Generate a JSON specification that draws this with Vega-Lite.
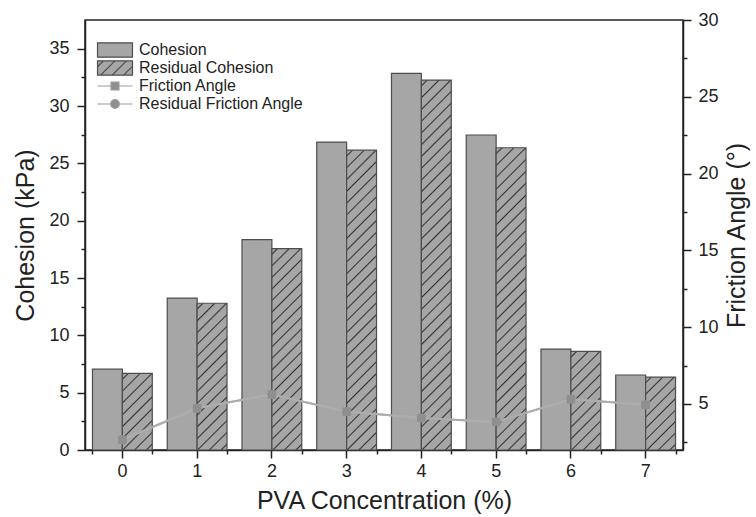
{
"$schema": "https://vega.github.io/schema/vega-lite/v6.json",
"width": 598, "height": 430,
"autosize": {"type": "none"},
"padding": {"left": 85, "top": 20, "right": 73, "bottom": 67},
"background": "white",
"config": {
  "view": {"stroke": "#222222", "strokeWidth": 1.5},
  "font": "Liberation Sans",
  "axis": {"labelFont": "Liberation Sans", "titleFont": "Liberation Sans", "labelFontSize": 18, "titleFontSize": 25, "titleFontWeight": "normal", "labelColor": "#222222", "titleColor": "#222222", "domainColor": "#222222", "tickColor": "#222222", "domainWidth": 1.5, "tickWidth": 1.5, "grid": false}
},
"datasets": {
  "bars": [
    {"c": 0, "series": "Cohesion", "value": 7.06}, {"c": 0, "series": "Residual Cohesion", "value": 6.68},
    {"c": 1, "series": "Cohesion", "value": 13.25}, {"c": 1, "series": "Residual Cohesion", "value": 12.8},
    {"c": 2, "series": "Cohesion", "value": 18.35}, {"c": 2, "series": "Residual Cohesion", "value": 17.57},
    {"c": 3, "series": "Cohesion", "value": 26.85}, {"c": 3, "series": "Residual Cohesion", "value": 26.15},
    {"c": 4, "series": "Cohesion", "value": 32.84}, {"c": 4, "series": "Residual Cohesion", "value": 32.26},
    {"c": 5, "series": "Cohesion", "value": 27.47}, {"c": 5, "series": "Residual Cohesion", "value": 26.36},
    {"c": 6, "series": "Cohesion", "value": 8.8}, {"c": 6, "series": "Residual Cohesion", "value": 8.6},
    {"c": 7, "series": "Cohesion", "value": 6.54}, {"c": 7, "series": "Residual Cohesion", "value": 6.36}
  ],
  "angles": [
    {"c": 0, "series": "Friction Angle", "value": 2.67}, {"c": 1, "series": "Friction Angle", "value": 4.72},
    {"c": 2, "series": "Friction Angle", "value": 5.62}, {"c": 3, "series": "Friction Angle", "value": 4.5},
    {"c": 4, "series": "Friction Angle", "value": 4.08}, {"c": 5, "series": "Friction Angle", "value": 3.83},
    {"c": 6, "series": "Friction Angle", "value": 5.3}, {"c": 7, "series": "Friction Angle", "value": 4.94},
    {"c": 0, "series": "Residual Friction Angle", "value": 2.67}, {"c": 1, "series": "Residual Friction Angle", "value": 4.72},
    {"c": 2, "series": "Residual Friction Angle", "value": 5.62}, {"c": 3, "series": "Residual Friction Angle", "value": 4.5},
    {"c": 4, "series": "Residual Friction Angle", "value": 4.08}, {"c": 5, "series": "Residual Friction Angle", "value": 3.83},
    {"c": 6, "series": "Residual Friction Angle", "value": 5.3}, {"c": 7, "series": "Residual Friction Angle", "value": 4.94}
  ]
},
"layer": [
  {
    "data": {"name": "bars"},
    "mark": {"type": "bar", "stroke": "#4d4d4d", "strokeWidth": 1.2},
    "encoding": {
      "x": {"field": "c", "type": "ordinal", "scale": {"type": "band", "paddingInner": 0.2, "paddingOuter": 0.1},
            "axis": {"orient": "bottom", "title": "PVA Concentration (%)", "labelAngle": 0, "tickSize": 8, "labelPadding": 4, "titlePadding": 8}},
      "xOffset": {"field": "series", "type": "nominal", "scale": {"domain": ["Cohesion", "Residual Cohesion"], "paddingInner": 0, "paddingOuter": 0}},
      "y": {"field": "value", "type": "quantitative", "scale": {"domain": [0, 37.5], "nice": false, "zero": false},
            "axis": {"orient": "left", "title": "Cohesion (kPa)", "values": [0,2.5,5,7.5,10,12.5,15,17.5,20,22.5,25,27.5,30,32.5,35],
                     "labelExpr": "datum.value % 5 === 0 ? datum.label : ''",
                     "tickSize": {"condition": {"test": "datum.value % 5 === 0", "value": 8}, "value": 4},
                     "labelPadding": 8, "titlePadding": 10}},
      "fill": {"condition": [
        {"test": "datum.series === 'Residual Cohesion' && datum.c === 0", "value": {"gradient": "linear", "x1": 0, "y1": 0, "x2": 0.4710, "y2": 1.2065, "stops": [
          {"offset":0.0413,"color":"#a6a6a6"},{"offset":0.0556,"color":"#333333"},{"offset":0.0698,"color":"#a6a6a6"},
          {"offset":0.1524,"color":"#a6a6a6"},{"offset":0.1667,"color":"#333333"},{"offset":0.1809,"color":"#a6a6a6"},
          {"offset":0.2636,"color":"#a6a6a6"},{"offset":0.2778,"color":"#333333"},{"offset":0.2920,"color":"#a6a6a6"},
          {"offset":0.3747,"color":"#a6a6a6"},{"offset":0.3889,"color":"#333333"},{"offset":0.4031,"color":"#a6a6a6"},
          {"offset":0.4858,"color":"#a6a6a6"},{"offset":0.5000,"color":"#333333"},{"offset":0.5142,"color":"#a6a6a6"},
          {"offset":0.5969,"color":"#a6a6a6"},{"offset":0.6111,"color":"#333333"},{"offset":0.6253,"color":"#a6a6a6"},
          {"offset":0.7080,"color":"#a6a6a6"},{"offset":0.7222,"color":"#333333"},{"offset":0.7364,"color":"#a6a6a6"},
          {"offset":0.8191,"color":"#a6a6a6"},{"offset":0.8333,"color":"#333333"},{"offset":0.8476,"color":"#a6a6a6"},
          {"offset":0.9302,"color":"#a6a6a6"},{"offset":0.9444,"color":"#333333"},{"offset":0.9587,"color":"#a6a6a6"}]}},
        {"test": "datum.series === 'Residual Cohesion' && datum.c === 1", "value": {"gradient": "linear", "x1": 0, "y1": 0, "x2": 0.2354, "y2": 1.1557, "stops": [
          {"offset":0.0248,"color":"#a6a6a6"},{"offset":0.0333,"color":"#333333"},{"offset":0.0419,"color":"#a6a6a6"},
          {"offset":0.0915,"color":"#a6a6a6"},{"offset":0.1000,"color":"#333333"},{"offset":0.1085,"color":"#a6a6a6"},
          {"offset":0.1581,"color":"#a6a6a6"},{"offset":0.1667,"color":"#333333"},{"offset":0.1752,"color":"#a6a6a6"},
          {"offset":0.2248,"color":"#a6a6a6"},{"offset":0.2333,"color":"#333333"},{"offset":0.2419,"color":"#a6a6a6"},
          {"offset":0.2915,"color":"#a6a6a6"},{"offset":0.3000,"color":"#333333"},{"offset":0.3085,"color":"#a6a6a6"},
          {"offset":0.3581,"color":"#a6a6a6"},{"offset":0.3667,"color":"#333333"},{"offset":0.3752,"color":"#a6a6a6"},
          {"offset":0.4248,"color":"#a6a6a6"},{"offset":0.4333,"color":"#333333"},{"offset":0.4419,"color":"#a6a6a6"},
          {"offset":0.4915,"color":"#a6a6a6"},{"offset":0.5000,"color":"#333333"},{"offset":0.5085,"color":"#a6a6a6"},
          {"offset":0.5581,"color":"#a6a6a6"},{"offset":0.5667,"color":"#333333"},{"offset":0.5752,"color":"#a6a6a6"},
          {"offset":0.6248,"color":"#a6a6a6"},{"offset":0.6333,"color":"#333333"},{"offset":0.6419,"color":"#a6a6a6"},
          {"offset":0.6915,"color":"#a6a6a6"},{"offset":0.7000,"color":"#333333"},{"offset":0.7085,"color":"#a6a6a6"},
          {"offset":0.7581,"color":"#a6a6a6"},{"offset":0.7667,"color":"#333333"},{"offset":0.7752,"color":"#a6a6a6"},
          {"offset":0.8248,"color":"#a6a6a6"},{"offset":0.8333,"color":"#333333"},{"offset":0.8419,"color":"#a6a6a6"},
          {"offset":0.8915,"color":"#a6a6a6"},{"offset":0.9000,"color":"#333333"},{"offset":0.9085,"color":"#a6a6a6"},
          {"offset":0.9581,"color":"#a6a6a6"},{"offset":0.9667,"color":"#333333"},{"offset":0.9752,"color":"#a6a6a6"}]}},
        {"test": "datum.series === 'Residual Cohesion' && datum.c === 2", "value": {"gradient": "linear", "x1": 0, "y1": 0, "x2": 0.1667, "y2": 1.1236, "stops": [
          {"offset":0.0186,"color":"#a6a6a6"},{"offset":0.025,"color":"#333333"},{"offset":0.0314,"color":"#a6a6a6"},
          {"offset":0.0686,"color":"#a6a6a6"},{"offset":0.075,"color":"#333333"},{"offset":0.0814,"color":"#a6a6a6"},
          {"offset":0.1186,"color":"#a6a6a6"},{"offset":0.125,"color":"#333333"},{"offset":0.1314,"color":"#a6a6a6"},
          {"offset":0.1686,"color":"#a6a6a6"},{"offset":0.175,"color":"#333333"},{"offset":0.1814,"color":"#a6a6a6"},
          {"offset":0.2186,"color":"#a6a6a6"},{"offset":0.225,"color":"#333333"},{"offset":0.2314,"color":"#a6a6a6"},
          {"offset":0.2686,"color":"#a6a6a6"},{"offset":0.275,"color":"#333333"},{"offset":0.2814,"color":"#a6a6a6"},
          {"offset":0.3186,"color":"#a6a6a6"},{"offset":0.325,"color":"#333333"},{"offset":0.3314,"color":"#a6a6a6"},
          {"offset":0.3686,"color":"#a6a6a6"},{"offset":0.375,"color":"#333333"},{"offset":0.3814,"color":"#a6a6a6"},
          {"offset":0.4186,"color":"#a6a6a6"},{"offset":0.425,"color":"#333333"},{"offset":0.4314,"color":"#a6a6a6"},
          {"offset":0.4686,"color":"#a6a6a6"},{"offset":0.475,"color":"#333333"},{"offset":0.4814,"color":"#a6a6a6"},
          {"offset":0.5186,"color":"#a6a6a6"},{"offset":0.525,"color":"#333333"},{"offset":0.5314,"color":"#a6a6a6"},
          {"offset":0.5686,"color":"#a6a6a6"},{"offset":0.575,"color":"#333333"},{"offset":0.5814,"color":"#a6a6a6"},
          {"offset":0.6186,"color":"#a6a6a6"},{"offset":0.625,"color":"#333333"},{"offset":0.6314,"color":"#a6a6a6"},
          {"offset":0.6686,"color":"#a6a6a6"},{"offset":0.675,"color":"#333333"},{"offset":0.6814,"color":"#a6a6a6"},
          {"offset":0.7186,"color":"#a6a6a6"},{"offset":0.725,"color":"#333333"},{"offset":0.7314,"color":"#a6a6a6"},
          {"offset":0.7686,"color":"#a6a6a6"},{"offset":0.775,"color":"#333333"},{"offset":0.7814,"color":"#a6a6a6"},
          {"offset":0.8186,"color":"#a6a6a6"},{"offset":0.825,"color":"#333333"},{"offset":0.8314,"color":"#a6a6a6"},
          {"offset":0.8686,"color":"#a6a6a6"},{"offset":0.875,"color":"#333333"},{"offset":0.8814,"color":"#a6a6a6"},
          {"offset":0.9186,"color":"#a6a6a6"},{"offset":0.925,"color":"#333333"},{"offset":0.9314,"color":"#a6a6a6"},
          {"offset":0.9686,"color":"#a6a6a6"},{"offset":0.975,"color":"#333333"},{"offset":0.9814,"color":"#a6a6a6"}]}},
        {"test": "datum.series === 'Residual Cohesion' && datum.c === 3", "value": {"gradient": "linear", "x1": 0, "y1": 0, "x2": 0.1086, "y2": 1.0889, "stops": [
          {"offset":0.0133,"color":"#a6a6a6"},{"offset":0.0179,"color":"#333333"},{"offset":0.0224,"color":"#a6a6a6"},
          {"offset":0.0490,"color":"#a6a6a6"},{"offset":0.0536,"color":"#333333"},{"offset":0.0581,"color":"#a6a6a6"},
          {"offset":0.0847,"color":"#a6a6a6"},{"offset":0.0893,"color":"#333333"},{"offset":0.0939,"color":"#a6a6a6"},
          {"offset":0.1204,"color":"#a6a6a6"},{"offset":0.1250,"color":"#333333"},{"offset":0.1296,"color":"#a6a6a6"},
          {"offset":0.1561,"color":"#a6a6a6"},{"offset":0.1607,"color":"#333333"},{"offset":0.1653,"color":"#a6a6a6"},
          {"offset":0.1919,"color":"#a6a6a6"},{"offset":0.1964,"color":"#333333"},{"offset":0.2010,"color":"#a6a6a6"},
          {"offset":0.2276,"color":"#a6a6a6"},{"offset":0.2321,"color":"#333333"},{"offset":0.2367,"color":"#a6a6a6"},
          {"offset":0.2633,"color":"#a6a6a6"},{"offset":0.2679,"color":"#333333"},{"offset":0.2724,"color":"#a6a6a6"},
          {"offset":0.2990,"color":"#a6a6a6"},{"offset":0.3036,"color":"#333333"},{"offset":0.3081,"color":"#a6a6a6"},
          {"offset":0.3347,"color":"#a6a6a6"},{"offset":0.3393,"color":"#333333"},{"offset":0.3439,"color":"#a6a6a6"},
          {"offset":0.3704,"color":"#a6a6a6"},{"offset":0.3750,"color":"#333333"},{"offset":0.3796,"color":"#a6a6a6"},
          {"offset":0.4061,"color":"#a6a6a6"},{"offset":0.4107,"color":"#333333"},{"offset":0.4153,"color":"#a6a6a6"},
          {"offset":0.4419,"color":"#a6a6a6"},{"offset":0.4464,"color":"#333333"},{"offset":0.4510,"color":"#a6a6a6"},
          {"offset":0.4776,"color":"#a6a6a6"},{"offset":0.4821,"color":"#333333"},{"offset":0.4867,"color":"#a6a6a6"},
          {"offset":0.5133,"color":"#a6a6a6"},{"offset":0.5179,"color":"#333333"},{"offset":0.5224,"color":"#a6a6a6"},
          {"offset":0.5490,"color":"#a6a6a6"},{"offset":0.5536,"color":"#333333"},{"offset":0.5581,"color":"#a6a6a6"},
          {"offset":0.5847,"color":"#a6a6a6"},{"offset":0.5893,"color":"#333333"},{"offset":0.5939,"color":"#a6a6a6"},
          {"offset":0.6204,"color":"#a6a6a6"},{"offset":0.6250,"color":"#333333"},{"offset":0.6296,"color":"#a6a6a6"},
          {"offset":0.6561,"color":"#a6a6a6"},{"offset":0.6607,"color":"#333333"},{"offset":0.6653,"color":"#a6a6a6"},
          {"offset":0.6919,"color":"#a6a6a6"},{"offset":0.6964,"color":"#333333"},{"offset":0.7010,"color":"#a6a6a6"},
          {"offset":0.7276,"color":"#a6a6a6"},{"offset":0.7321,"color":"#333333"},{"offset":0.7367,"color":"#a6a6a6"},
          {"offset":0.7633,"color":"#a6a6a6"},{"offset":0.7679,"color":"#333333"},{"offset":0.7724,"color":"#a6a6a6"},
          {"offset":0.7990,"color":"#a6a6a6"},{"offset":0.8036,"color":"#333333"},{"offset":0.8081,"color":"#a6a6a6"},
          {"offset":0.8347,"color":"#a6a6a6"},{"offset":0.8393,"color":"#333333"},{"offset":0.8439,"color":"#a6a6a6"},
          {"offset":0.8704,"color":"#a6a6a6"},{"offset":0.8750,"color":"#333333"},{"offset":0.8796,"color":"#a6a6a6"},
          {"offset":0.9061,"color":"#a6a6a6"},{"offset":0.9107,"color":"#333333"},{"offset":0.9153,"color":"#a6a6a6"},
          {"offset":0.9419,"color":"#a6a6a6"},{"offset":0.9464,"color":"#333333"},{"offset":0.9510,"color":"#a6a6a6"},
          {"offset":0.9776,"color":"#a6a6a6"},{"offset":0.9821,"color":"#333333"},{"offset":0.9867,"color":"#a6a6a6"}]}},
        {"test": "datum.series === 'Residual Cohesion' && datum.c === 4", "value": {"gradient": "linear", "x1": 0, "y1": 0, "x2": 0.0868, "y2": 1.0738, "stops": [
          {"offset":0.0109,"color":"#a6a6a6"},{"offset":0.0147,"color":"#333333"},{"offset":0.0185,"color":"#a6a6a6"},
          {"offset":0.0404,"color":"#a6a6a6"},{"offset":0.0441,"color":"#333333"},{"offset":0.0479,"color":"#a6a6a6"},
          {"offset":0.0698,"color":"#a6a6a6"},{"offset":0.0735,"color":"#333333"},{"offset":0.0773,"color":"#a6a6a6"},
          {"offset":0.0992,"color":"#a6a6a6"},{"offset":0.1029,"color":"#333333"},{"offset":0.1067,"color":"#a6a6a6"},
          {"offset":0.1286,"color":"#a6a6a6"},{"offset":0.1324,"color":"#333333"},{"offset":0.1361,"color":"#a6a6a6"},
          {"offset":0.1580,"color":"#a6a6a6"},{"offset":0.1618,"color":"#333333"},{"offset":0.1655,"color":"#a6a6a6"},
          {"offset":0.1874,"color":"#a6a6a6"},{"offset":0.1912,"color":"#333333"},{"offset":0.1949,"color":"#a6a6a6"},
          {"offset":0.2168,"color":"#a6a6a6"},{"offset":0.2206,"color":"#333333"},{"offset":0.2244,"color":"#a6a6a6"},
          {"offset":0.2462,"color":"#a6a6a6"},{"offset":0.2500,"color":"#333333"},{"offset":0.2538,"color":"#a6a6a6"},
          {"offset":0.2756,"color":"#a6a6a6"},{"offset":0.2794,"color":"#333333"},{"offset":0.2832,"color":"#a6a6a6"},
          {"offset":0.3051,"color":"#a6a6a6"},{"offset":0.3088,"color":"#333333"},{"offset":0.3126,"color":"#a6a6a6"},
          {"offset":0.3345,"color":"#a6a6a6"},{"offset":0.3382,"color":"#333333"},{"offset":0.3420,"color":"#a6a6a6"},
          {"offset":0.3639,"color":"#a6a6a6"},{"offset":0.3676,"color":"#333333"},{"offset":0.3714,"color":"#a6a6a6"},
          {"offset":0.3933,"color":"#a6a6a6"},{"offset":0.3971,"color":"#333333"},{"offset":0.4008,"color":"#a6a6a6"},
          {"offset":0.4227,"color":"#a6a6a6"},{"offset":0.4265,"color":"#333333"},{"offset":0.4302,"color":"#a6a6a6"},
          {"offset":0.4521,"color":"#a6a6a6"},{"offset":0.4559,"color":"#333333"},{"offset":0.4596,"color":"#a6a6a6"},
          {"offset":0.4815,"color":"#a6a6a6"},{"offset":0.4853,"color":"#333333"},{"offset":0.4891,"color":"#a6a6a6"},
          {"offset":0.5109,"color":"#a6a6a6"},{"offset":0.5147,"color":"#333333"},{"offset":0.5185,"color":"#a6a6a6"},
          {"offset":0.5404,"color":"#a6a6a6"},{"offset":0.5441,"color":"#333333"},{"offset":0.5479,"color":"#a6a6a6"},
          {"offset":0.5698,"color":"#a6a6a6"},{"offset":0.5735,"color":"#333333"},{"offset":0.5773,"color":"#a6a6a6"},
          {"offset":0.5992,"color":"#a6a6a6"},{"offset":0.6029,"color":"#333333"},{"offset":0.6067,"color":"#a6a6a6"},
          {"offset":0.6286,"color":"#a6a6a6"},{"offset":0.6324,"color":"#333333"},{"offset":0.6361,"color":"#a6a6a6"},
          {"offset":0.6580,"color":"#a6a6a6"},{"offset":0.6618,"color":"#333333"},{"offset":0.6655,"color":"#a6a6a6"},
          {"offset":0.6874,"color":"#a6a6a6"},{"offset":0.6912,"color":"#333333"},{"offset":0.6949,"color":"#a6a6a6"},
          {"offset":0.7168,"color":"#a6a6a6"},{"offset":0.7206,"color":"#333333"},{"offset":0.7244,"color":"#a6a6a6"},
          {"offset":0.7462,"color":"#a6a6a6"},{"offset":0.7500,"color":"#333333"},{"offset":0.7538,"color":"#a6a6a6"},
          {"offset":0.7756,"color":"#a6a6a6"},{"offset":0.7794,"color":"#333333"},{"offset":0.7832,"color":"#a6a6a6"},
          {"offset":0.8051,"color":"#a6a6a6"},{"offset":0.8088,"color":"#333333"},{"offset":0.8126,"color":"#a6a6a6"},
          {"offset":0.8345,"color":"#a6a6a6"},{"offset":0.8382,"color":"#333333"},{"offset":0.8420,"color":"#a6a6a6"},
          {"offset":0.8639,"color":"#a6a6a6"},{"offset":0.8676,"color":"#333333"},{"offset":0.8714,"color":"#a6a6a6"},
          {"offset":0.8933,"color":"#a6a6a6"},{"offset":0.8971,"color":"#333333"},{"offset":0.9008,"color":"#a6a6a6"},
          {"offset":0.9227,"color":"#a6a6a6"},{"offset":0.9265,"color":"#333333"},{"offset":0.9302,"color":"#a6a6a6"},
          {"offset":0.9521,"color":"#a6a6a6"},{"offset":0.9559,"color":"#333333"},{"offset":0.9596,"color":"#a6a6a6"},
          {"offset":0.9815,"color":"#a6a6a6"},{"offset":0.9853,"color":"#333333"},{"offset":0.9891,"color":"#a6a6a6"}]}},
        {"test": "datum.series === 'Residual Cohesion' && datum.c === 5", "value": {"gradient": "linear", "x1": 0, "y1": 0, "x2": 0.1076, "y2": 1.0883, "stops": [
          {"offset":0.0133,"color":"#a6a6a6"},{"offset":0.0179,"color":"#333333"},{"offset":0.0224,"color":"#a6a6a6"},
          {"offset":0.0490,"color":"#a6a6a6"},{"offset":0.0536,"color":"#333333"},{"offset":0.0581,"color":"#a6a6a6"},
          {"offset":0.0847,"color":"#a6a6a6"},{"offset":0.0893,"color":"#333333"},{"offset":0.0939,"color":"#a6a6a6"},
          {"offset":0.1204,"color":"#a6a6a6"},{"offset":0.1250,"color":"#333333"},{"offset":0.1296,"color":"#a6a6a6"},
          {"offset":0.1561,"color":"#a6a6a6"},{"offset":0.1607,"color":"#333333"},{"offset":0.1653,"color":"#a6a6a6"},
          {"offset":0.1919,"color":"#a6a6a6"},{"offset":0.1964,"color":"#333333"},{"offset":0.2010,"color":"#a6a6a6"},
          {"offset":0.2276,"color":"#a6a6a6"},{"offset":0.2321,"color":"#333333"},{"offset":0.2367,"color":"#a6a6a6"},
          {"offset":0.2633,"color":"#a6a6a6"},{"offset":0.2679,"color":"#333333"},{"offset":0.2724,"color":"#a6a6a6"},
          {"offset":0.2990,"color":"#a6a6a6"},{"offset":0.3036,"color":"#333333"},{"offset":0.3081,"color":"#a6a6a6"},
          {"offset":0.3347,"color":"#a6a6a6"},{"offset":0.3393,"color":"#333333"},{"offset":0.3439,"color":"#a6a6a6"},
          {"offset":0.3704,"color":"#a6a6a6"},{"offset":0.3750,"color":"#333333"},{"offset":0.3796,"color":"#a6a6a6"},
          {"offset":0.4061,"color":"#a6a6a6"},{"offset":0.4107,"color":"#333333"},{"offset":0.4153,"color":"#a6a6a6"},
          {"offset":0.4419,"color":"#a6a6a6"},{"offset":0.4464,"color":"#333333"},{"offset":0.4510,"color":"#a6a6a6"},
          {"offset":0.4776,"color":"#a6a6a6"},{"offset":0.4821,"color":"#333333"},{"offset":0.4867,"color":"#a6a6a6"},
          {"offset":0.5133,"color":"#a6a6a6"},{"offset":0.5179,"color":"#333333"},{"offset":0.5224,"color":"#a6a6a6"},
          {"offset":0.5490,"color":"#a6a6a6"},{"offset":0.5536,"color":"#333333"},{"offset":0.5581,"color":"#a6a6a6"},
          {"offset":0.5847,"color":"#a6a6a6"},{"offset":0.5893,"color":"#333333"},{"offset":0.5939,"color":"#a6a6a6"},
          {"offset":0.6204,"color":"#a6a6a6"},{"offset":0.6250,"color":"#333333"},{"offset":0.6296,"color":"#a6a6a6"},
          {"offset":0.6561,"color":"#a6a6a6"},{"offset":0.6607,"color":"#333333"},{"offset":0.6653,"color":"#a6a6a6"},
          {"offset":0.6919,"color":"#a6a6a6"},{"offset":0.6964,"color":"#333333"},{"offset":0.7010,"color":"#a6a6a6"},
          {"offset":0.7276,"color":"#a6a6a6"},{"offset":0.7321,"color":"#333333"},{"offset":0.7367,"color":"#a6a6a6"},
          {"offset":0.7633,"color":"#a6a6a6"},{"offset":0.7679,"color":"#333333"},{"offset":0.7724,"color":"#a6a6a6"},
          {"offset":0.7990,"color":"#a6a6a6"},{"offset":0.8036,"color":"#333333"},{"offset":0.8081,"color":"#a6a6a6"},
          {"offset":0.8347,"color":"#a6a6a6"},{"offset":0.8393,"color":"#333333"},{"offset":0.8439,"color":"#a6a6a6"},
          {"offset":0.8704,"color":"#a6a6a6"},{"offset":0.8750,"color":"#333333"},{"offset":0.8796,"color":"#a6a6a6"},
          {"offset":0.9061,"color":"#a6a6a6"},{"offset":0.9107,"color":"#333333"},{"offset":0.9153,"color":"#a6a6a6"},
          {"offset":0.9419,"color":"#a6a6a6"},{"offset":0.9464,"color":"#333333"},{"offset":0.9510,"color":"#a6a6a6"},
          {"offset":0.9776,"color":"#a6a6a6"},{"offset":0.9821,"color":"#333333"},{"offset":0.9867,"color":"#a6a6a6"}]}},
        {"test": "datum.series === 'Residual Cohesion' && datum.c === 6", "value": {"gradient": "linear", "x1": 0, "y1": 0, "x2": 0.3619, "y2": 1.1936, "stops": [
          {"offset":0.0338,"color":"#a6a6a6"},{"offset":0.0455,"color":"#333333"},{"offset":0.0571,"color":"#a6a6a6"},
          {"offset":0.1247,"color":"#a6a6a6"},{"offset":0.1364,"color":"#333333"},{"offset":0.1480,"color":"#a6a6a6"},
          {"offset":0.2156,"color":"#a6a6a6"},{"offset":0.2273,"color":"#333333"},{"offset":0.2389,"color":"#a6a6a6"},
          {"offset":0.3065,"color":"#a6a6a6"},{"offset":0.3182,"color":"#333333"},{"offset":0.3298,"color":"#a6a6a6"},
          {"offset":0.3975,"color":"#a6a6a6"},{"offset":0.4091,"color":"#333333"},{"offset":0.4207,"color":"#a6a6a6"},
          {"offset":0.4884,"color":"#a6a6a6"},{"offset":0.5000,"color":"#333333"},{"offset":0.5116,"color":"#a6a6a6"},
          {"offset":0.5793,"color":"#a6a6a6"},{"offset":0.5909,"color":"#333333"},{"offset":0.6025,"color":"#a6a6a6"},
          {"offset":0.6702,"color":"#a6a6a6"},{"offset":0.6818,"color":"#333333"},{"offset":0.6934,"color":"#a6a6a6"},
          {"offset":0.7611,"color":"#a6a6a6"},{"offset":0.7727,"color":"#333333"},{"offset":0.7844,"color":"#a6a6a6"},
          {"offset":0.8520,"color":"#a6a6a6"},{"offset":0.8636,"color":"#333333"},{"offset":0.8753,"color":"#a6a6a6"},
          {"offset":0.9429,"color":"#a6a6a6"},{"offset":0.9545,"color":"#333333"},{"offset":0.9662,"color":"#a6a6a6"}]}},
        {"test": "datum.series === 'Residual Cohesion' && datum.c === 7", "value": {"gradient": "linear", "x1": 0, "y1": 0, "x2": 0.4951, "y2": 1.2071, "stops": [
          {"offset":0.0413,"color":"#a6a6a6"},{"offset":0.0556,"color":"#333333"},{"offset":0.0698,"color":"#a6a6a6"},
          {"offset":0.1524,"color":"#a6a6a6"},{"offset":0.1667,"color":"#333333"},{"offset":0.1809,"color":"#a6a6a6"},
          {"offset":0.2636,"color":"#a6a6a6"},{"offset":0.2778,"color":"#333333"},{"offset":0.2920,"color":"#a6a6a6"},
          {"offset":0.3747,"color":"#a6a6a6"},{"offset":0.3889,"color":"#333333"},{"offset":0.4031,"color":"#a6a6a6"},
          {"offset":0.4858,"color":"#a6a6a6"},{"offset":0.5000,"color":"#333333"},{"offset":0.5142,"color":"#a6a6a6"},
          {"offset":0.5969,"color":"#a6a6a6"},{"offset":0.6111,"color":"#333333"},{"offset":0.6253,"color":"#a6a6a6"},
          {"offset":0.7080,"color":"#a6a6a6"},{"offset":0.7222,"color":"#333333"},{"offset":0.7364,"color":"#a6a6a6"},
          {"offset":0.8191,"color":"#a6a6a6"},{"offset":0.8333,"color":"#333333"},{"offset":0.8476,"color":"#a6a6a6"},
          {"offset":0.9302,"color":"#a6a6a6"},{"offset":0.9444,"color":"#333333"},{"offset":0.9587,"color":"#a6a6a6"}]}}
      ], "value": "#a6a6a6"}
    }
  },
  {
    "layer": [
      {
        "data": {"name": "angles"},
        "mark": {"type": "line", "color": "#adadad", "strokeWidth": 2},
        "encoding": {
          "x": {"field": "c", "type": "ordinal", "scale": {"type": "band", "paddingInner": 0.2, "paddingOuter": 0.1},
                "axis": {"orient": "bottom", "tickBand": "extent", "labels": false, "title": null, "tickSize": 4, "domain": false}},
          "y": {"field": "value", "type": "quantitative", "scale": {"domain": [2, 30], "nice": false, "zero": false},
                "axis": {"orient": "right", "title": "Friction Angle (°)", "titleAngle": 270, "titleBaseline": "top",
                         "values": [2.5,5,7.5,10,12.5,15,17.5,20,22.5,25,27.5,30],
                         "labelExpr": "datum.value % 5 === 0 ? datum.label : ''",
                         "tickSize": {"condition": {"test": "datum.value % 5 === 0", "value": 8}, "value": 4},
                         "labelPadding": 7, "titlePadding": 6}},
          "detail": {"field": "series", "type": "nominal"}
        }
      },
      {
        "data": {"name": "angles"},
        "mark": {"type": "point", "filled": true, "opacity": 1, "color": "#8f8f8f"},
        "encoding": {
          "x": {"field": "c", "type": "ordinal", "scale": {"type": "band", "paddingInner": 0.2, "paddingOuter": 0.1},
                "axis": {"orient": "bottom", "tickBand": "extent", "labels": false, "title": null, "tickSize": 4, "domain": false}},
          "y": {"field": "value", "type": "quantitative", "scale": {"domain": [2, 30], "nice": false, "zero": false},
                "axis": {"orient": "right", "title": "Friction Angle (°)", "titleAngle": 270, "titleBaseline": "top",
                         "values": [2.5,5,7.5,10,12.5,15,17.5,20,22.5,25,27.5,30],
                         "labelExpr": "datum.value % 5 === 0 ? datum.label : ''",
                         "tickSize": {"condition": {"test": "datum.value % 5 === 0", "value": 8}, "value": 4},
                         "labelPadding": 7, "titlePadding": 6}},
          "shape": {"condition": {"test": "datum.series === 'Friction Angle'", "value": "square"}, "value": "circle"},
          "size": {"condition": {"test": "datum.series === 'Friction Angle'", "value": 70}, "value": 80}
        }
      },
      {
        "data": {"name": "angles"},
        "mark": {"type": "point", "filled": true, "opacity": 0},
        "encoding": {
          "x": {"field": "c", "type": "ordinal", "scale": {"type": "band", "paddingInner": 0.2, "paddingOuter": 0.1},
                "axis": {"orient": "bottom", "tickBand": "extent", "labels": false, "title": null, "tickSize": 4, "domain": false}},
          "y": {"field": "value", "type": "quantitative", "scale": {"domain": [2, 30], "nice": false, "zero": false},
                "axis": {"orient": "right", "title": "Friction Angle (°)", "titleAngle": 270, "titleBaseline": "top",
                         "values": [2.5,5,7.5,10,12.5,15,17.5,20,22.5,25,27.5,30],
                         "labelExpr": "datum.value % 5 === 0 ? datum.label : ''",
                         "tickSize": {"condition": {"test": "datum.value % 5 === 0", "value": 8}, "value": 4},
                         "labelPadding": 7, "titlePadding": 6}},
          "shape": {"field": "series", "type": "nominal",
                    "scale": {"domain": ["Cohesion", "Residual Cohesion", "Friction Angle", "Residual Friction Angle"],
                              "range": ["M-2.43,-1H2.43V1H-2.43Z",
                                        "M-2.43,-1H2.43V1H-2.43ZM-2.43,-0.17L-1.6,-1M-2,1L0,-1M-0.4,1L1.6,-1M1.2,1L2.43,-0.23",
                                        "M-2.43,0H-0.55M0.55,0H2.43M-0.55,-0.55H0.55V0.55H-0.55Z",
                                        "M-2.43,0H-0.6M0.6,0H2.43M-0.6,0A0.6,0.6,0,1,0,0.6,0A0.6,0.6,0,1,0,-0.6,0"]},
                    "legend": {"title": null, "orient": "none", "legendX": 22, "legendY": 22, "padding": 0, "symbolSize": 207, "symbolStrokeWidth": 1.2, "symbolOpacity": 1, "labelFontSize": 16, "labelFont": "Liberation Sans", "labelColor": "#222222", "labelOffset": 16, "rowPadding": -3, "gridAlign": "all", "labelLimit": 300}},
          "fill": {"field": "series", "type": "nominal",
                   "scale": {"domain": ["Cohesion", "Residual Cohesion", "Friction Angle", "Residual Friction Angle"], "range": ["#a6a6a6", "#a6a6a6", "#8f8f8f", "#8f8f8f"]},
                   "legend": {"title": null, "orient": "none", "legendX": 22, "legendY": 22, "padding": 0, "symbolSize": 207, "symbolStrokeWidth": 1.2, "symbolOpacity": 1, "labelFontSize": 16, "labelFont": "Liberation Sans", "labelColor": "#222222", "labelOffset": 16, "rowPadding": -3, "gridAlign": "all", "labelLimit": 300}},
          "stroke": {"field": "series", "type": "nominal",
                     "scale": {"domain": ["Cohesion", "Residual Cohesion", "Friction Angle", "Residual Friction Angle"], "range": ["#4d4d4d", "#4d4d4d", "#9a9a9a", "#9a9a9a"]},
                     "legend": {"title": null, "orient": "none", "legendX": 22, "legendY": 22, "padding": 0, "symbolSize": 207, "symbolStrokeWidth": 1.2, "symbolOpacity": 1, "labelFontSize": 16, "labelFont": "Liberation Sans", "labelColor": "#222222", "labelOffset": 16, "rowPadding": -3, "gridAlign": "all", "labelLimit": 300}}
        }
      }
    ]
  }
],
"resolve": {"scale": {"y": "independent"}, "axis": {"x": "independent"}}
}
